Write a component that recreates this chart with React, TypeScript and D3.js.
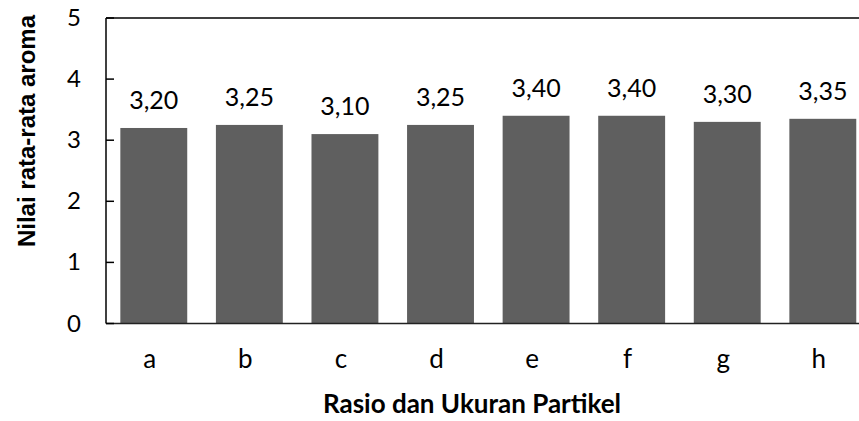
import * as d3 from 'd3';

// Chart data
const categories = ['a', 'b', 'c', 'd', 'e', 'f', 'g', 'h'];
const values = [3.2, 3.25, 3.1, 3.25, 3.4, 3.4, 3.3, 3.35];
const yTicks = [0, 1, 2, 3, 4, 5];

const WIDTH = 859;
const HEIGHT = 421;
const PLOT = { left: 106, top: 18, bottom: 323.5, right: 870.6 };

const LABEL_FONT = 'Lato, Carlito, Calibri, sans-serif';

export default function App() {
  const x = d3
    .scaleBand<string>()
    .domain(categories)
    .range([PLOT.left, PLOT.right])
    .paddingInner(0.3)
    .paddingOuter(0.15);

  const y = d3.scaleLinear().domain([0, 5]).range([PLOT.bottom, PLOT.top]);

  const fmt = (v: number) => v.toFixed(2).replace('.', ',');

  return (
    <svg
      width={WIDTH}
      height={HEIGHT}
      style={{ position: 'absolute', left: 0, top: 0, background: '#fff' }}
    >
      {/* Bars */}
      {categories.map((c, i) => (
        <rect
          key={c}
          x={x(c)}
          y={y(values[i])}
          width={x.bandwidth()}
          height={y(0) - y(values[i])}
          fill="#5f5f5f"
        />
      ))}

      {/* Value labels */}
      {categories.map((c, i) => (
        <text
          key={c}
          x={(x(c) ?? 0) + x.bandwidth() / 2}
          y={y(values[i]) - 19}
          textAnchor="middle"
          fontFamily={LABEL_FONT}
          fontSize={25}
          fill="#000"
        >
          {fmt(values[i])}
        </text>
      ))}

      {/* Frame */}
      <line x1={PLOT.left} x2={PLOT.right} y1={PLOT.top} y2={PLOT.top} stroke="#000" strokeWidth={1.5} />
      <line x1={PLOT.left} x2={PLOT.right} y1={PLOT.bottom} y2={PLOT.bottom} stroke="#222" strokeWidth={1.5} />
      <line x1={PLOT.left} x2={PLOT.left} y1={PLOT.top} y2={PLOT.bottom} stroke="#000" strokeWidth={1.5} />

      {/* Y ticks */}
      {yTicks.map((t) => (
        <g key={t}>
          <line x1={PLOT.left} x2={PLOT.left + 8} y1={y(t)} y2={y(t)} stroke="#000" strokeWidth={1.5} />
          <text
            x={81}
            y={y(t) + 8}
            textAnchor="end"
            fontFamily={LABEL_FONT}
            fontSize={24}
            fill="#000"
          >
            {t}
          </text>
        </g>
      ))}

      {/* X labels */}
      {categories.map((c) => (
        <text
          key={c}
          x={(x(c) ?? 0) + x.bandwidth() / 2 - 4}
          y={368}
          textAnchor="middle"
          fontFamily={LABEL_FONT}
          fontSize={26}
          fill="#000"
        >
          {c}
        </text>
      ))}

      {/* Axis titles */}
      <text
        x={472}
        y={413}
        textAnchor="middle"
        fontFamily={LABEL_FONT}
        fontWeight="bold"
        fontSize={26}
        fill="#000"
      >
        Rasio dan Ukuran Partikel
      </text>
      <text
        transform="translate(35,131) rotate(-90)"
        textAnchor="middle"
        fontFamily="'Liberation Sans', Arial, sans-serif"
        fontWeight="bold"
        fontSize={24}
        fill="#000"
      >
        Nilai rata-rata aroma
      </text>
    </svg>
  );
}
